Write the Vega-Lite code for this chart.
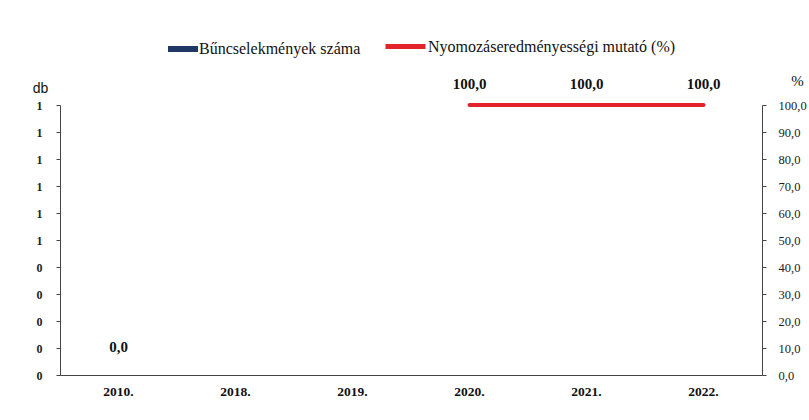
{
  "$schema": "https://vega.github.io/schema/vega-lite/v6.json",
  "width": 702,
  "height": 270,
  "autosize": {"type": "none"},
  "padding": {"left": 60, "top": 105, "right": 47, "bottom": 45},
  "background": "white",
  "config": {
    "locale": {"number": {"decimal": ",", "thousands": " ", "grouping": [3], "currency": ["", " Ft"]}},
    "view": {"stroke": null},
    "font": "Liberation Serif"
  },
  "data": {
    "values": [
      {"year": "2010.", "count": 0, "pct": null},
      {"year": "2018.", "count": null, "pct": null},
      {"year": "2019.", "count": null, "pct": null},
      {"year": "2020.", "count": null, "pct": 100},
      {"year": "2021.", "count": null, "pct": 100},
      {"year": "2022.", "count": null, "pct": 100}
    ]
  },
  "encoding": {
    "x": {
      "field": "year", "type": "nominal", "sort": null,
      "scale": {"domain": ["2010.", "2018.", "2019.", "2020.", "2021.", "2022."], "paddingInner": 0.35, "paddingOuter": 0.175},
      "axis": {
        "title": null, "labelAngle": 0, "ticks": false,
        "labelFont": "Liberation Serif", "labelFontSize": 13.5, "labelFontWeight": "bold",
        "labelColor": "#111", "labelPadding": 9, "domainColor": "#444", "domainWidth": 1
      }
    }
  },
  "layer": [
    {
      "mark": {"type": "bar"},
      "encoding": {
        "y": {
          "field": "count", "type": "quantitative",
          "scale": {"domain": [0, 1], "nice": false},
          "axis": {
            "title": "db", "titleAngle": 0, "titleX": -20, "titleY": -17, "titleAlign": "center", "titleBaseline": "middle",
            "titleFont": "Liberation Sans", "titleFontSize": 14, "titleFontWeight": "normal", "titleColor": "#111",
            "values": [0, 0.1, 0.2, 0.3, 0.4, 0.5, 0.6, 0.7, 0.8, 0.9, 1],
            "format": ".0f", "grid": false, "tickSize": 4, "tickColor": "#444",
            "labelFont": "Liberation Serif", "labelFontSize": 12, "labelFontWeight": "bold", "labelColor": "#222",
            "labelPadding": 14, "domainColor": "#444"
          }
        },
        "fill": {
          "datum": "Bűncselekmények száma",
          "scale": {"range": ["#1F3864"]},
          "legend": {
            "title": null, "orient": "none", "legendX": 108, "legendY": -71,
            "symbolType": "M-1,-0.2H1V0.2H-1Z", "symbolSize": 900, "symbolStrokeWidth": 0,
            "labelFont": "Liberation Serif", "labelFontSize": 16, "labelColor": "#111", "labelOffset": 1, "labelLimit": 400
          }
        }
      }
    },
    {
      "mark": {"type": "text", "dy": -28, "fontWeight": "bold", "fontSize": 15, "font": "Liberation Serif", "color": "#111"},
      "transform": [{"filter": "datum.count != null"}],
      "encoding": {
        "y": {"field": "count", "type": "quantitative", "scale": {"domain": [0, 1], "nice": false}, "axis": null},
        "text": {"field": "count", "type": "quantitative", "format": ".1f"}
      }
    },
    {
      "mark": {"type": "line", "strokeWidth": 4, "strokeCap": "round"},
      "transform": [{"filter": "datum.pct != null"}],
      "encoding": {
        "y": {
          "field": "pct", "type": "quantitative",
          "scale": {"domain": [0, 100], "nice": false},
          "axis": {
            "orient": "right",
            "title": "%", "titleAngle": 0, "titleX": 35, "titleY": -25, "titleAlign": "center", "titleBaseline": "middle",
            "titleFont": "Liberation Serif", "titleFontSize": 15, "titleFontWeight": "normal", "titleColor": "#111",
            "values": [0, 10, 20, 30, 40, 50, 60, 70, 80, 90, 100],
            "format": ".1f", "grid": false, "tickSize": 4, "tickColor": "#444",
            "labelFont": "Liberation Serif", "labelFontSize": 12.5, "labelColor": "#222",
            "labelPadding": 12, "domainColor": "#444"
          }
        },
        "stroke": {
          "datum": "Nyomozáseredményességi mutató (%)",
          "scale": {"range": ["#E2232B"]},
          "legend": {
            "title": null, "orient": "none", "legendX": 323, "legendY": -81,
            "symbolType": "stroke", "symbolSize": 1600, "symbolStrokeWidth": 5,
            "labelFont": "Liberation Serif", "labelFontSize": 16, "labelColor": "#111", "labelOffset": 0, "labelLimit": 400
          }
        }
      }
    },
    {
      "mark": {"type": "text", "dy": -21, "fontWeight": "bold", "fontSize": 15, "font": "Liberation Serif", "color": "#111"},
      "transform": [{"filter": "datum.pct != null"}],
      "encoding": {
        "y": {"field": "pct", "type": "quantitative", "scale": {"domain": [0, 100], "nice": false}, "axis": null},
        "text": {"field": "pct", "type": "quantitative", "format": ".1f"}
      }
    }
  ],
  "resolve": {"scale": {"y": "independent"}}
}
